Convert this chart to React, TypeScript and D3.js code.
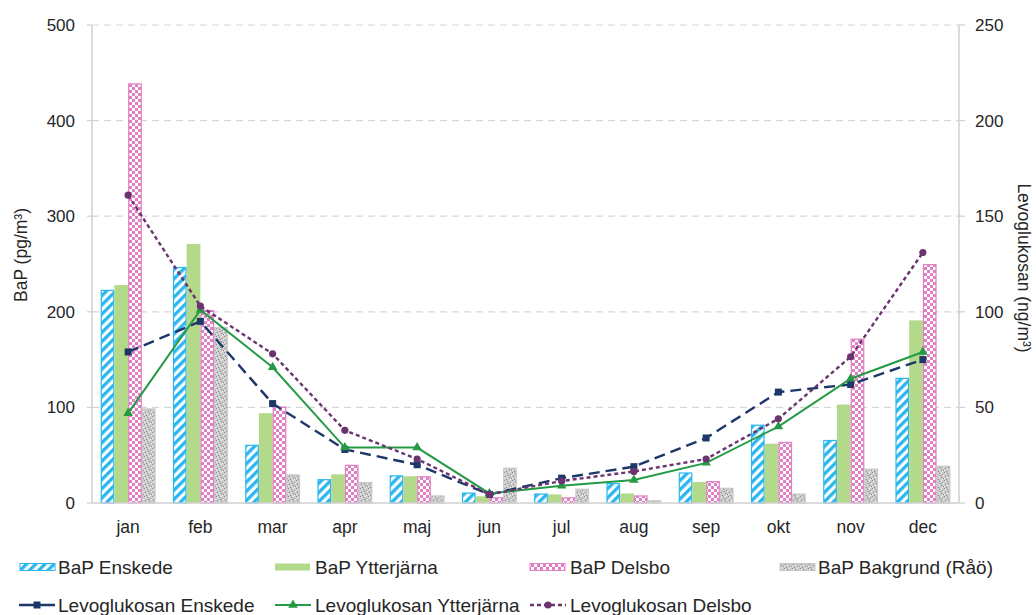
import React from "react";
import * as d3 from "d3";

const months = ["jan", "feb", "mar", "apr", "maj", "jun", "jul", "aug", "sep", "okt", "nov", "dec"];
const bapEnskede = [223, 247, 61, 25, 29, 11, 10, 21, 32, 82, 66, 131];
const bapYtterjarna = [228, 271, 94, 30, 28, 7, 9, 10, 22, 62, 103, 191];
const bapDelsbo = [439, 202, 101, 40, 28, 6, 6, 8, 23, 64, 172, 250];
const bapBakgrund = [99, 184, 30, 22, 8, 37, 15, 3, 16, 10, 36, 39];
const levoEnskede = [79, 95, 52, 28, 20, 4.5, 13, 19, 34, 58, 62, 75];
const levoYtterjarna = [47, 101, 71, 29, 29, 5, 9, 12, 21, 40, 65, 79];
const levoDelsbo = [161, 103, 78, 38, 23, 4.5, 11.5, 16.5, 23, 44, 76.5, 131];
const leftTicks = [0, 100, 200, 300, 400, 500];
const rightTicks = [0, 50, 100, 150, 200, 250];

const W = 1036;
const H = 615;
const X0 = 92;
const X1 = 959;
const Y0 = 503;
const Y1 = 25;
const FONT = "'Liberation Sans', Arial, sans-serif";
const TXT = "#262626";

const barSeries = [
  { key: "BaP Enskede", values: bapEnskede, fill: "url(#pEnskede)", stroke: "#2bb6ef" },
  { key: "BaP Ytterjärna", values: bapYtterjarna, fill: "#b3da8a", stroke: "none" },
  { key: "BaP Delsbo", values: bapDelsbo, fill: "url(#pDelsbo)", stroke: "#e07fc2" },
  { key: "BaP Bakgrund (Råö)", values: bapBakgrund, fill: "url(#pBak)", stroke: "#c8c8c8" },
];

const lineSeries = [
  { key: "Levoglukosan Enskede", values: levoEnskede, color: "#1c3768", dash: "11,6", legendDash: "none", width: 2.4, marker: "square" },
  { key: "Levoglukosan Ytterjärna", values: levoYtterjarna, color: "#259a45", dash: "none", legendDash: "none", width: 2, marker: "triangle" },
  { key: "Levoglukosan Delsbo", values: levoDelsbo, color: "#6b3470", dash: "4,3", legendDash: "4,3", width: 2.4, marker: "circle" },
];

// stipple dot positions inside an 8x8 tile (pattern geometry, not data)
const darkDots = [[0, 0], [3, 1], [6, 2], [1, 4], [5, 5], [2, 7], [7, 6], [4, 3]];
const lightDots = [[1, 1], [5, 0], [3, 5], [7, 3], [0, 6], [6, 7]];

function Marker({ type, x, y, color }: { type: string; x: number; y: number; color: string }) {
  if (type === "square") return <rect x={x - 3.5} y={y - 3.5} width={7} height={7} fill={color} />;
  if (type === "triangle") {
    const s = d3.symbol().type(d3.symbolTriangle).size(40)();
    return <path d={s || ""} transform={`translate(${x},${y})`} fill={color} />;
  }
  return <circle cx={x} cy={y} r={3.6} fill={color} />;
}

export default function App() {
  const x = d3.scaleBand<string>().domain(months).range([X0, X1]).padding(0);
  const groupW = x.bandwidth() * 0.76;
  const inner = d3
    .scaleBand<string>()
    .domain(barSeries.map((s) => s.key))
    .range([0, groupW]);
  const yL = d3.scaleLinear().domain([0, 500]).range([Y0, Y1]);
  const yR = d3.scaleLinear().domain([0, 250]).range([Y0, Y1]);
  const cx = (m: string) => (x(m) as number) + x.bandwidth() / 2;

  const legendBars = [
    { x: 20, tx: 58 },
    { x: 275, tx: 315 },
    { x: 530, tx: 570 },
    { x: 780, tx: 818 },
  ];
  const legendLines = [
    { x: 19, tx: 58 },
    { x: 275, tx: 315 },
    { x: 530, tx: 570 },
  ];

  return (
    <svg
      width={W}
      height={H}
      viewBox={`0 0 ${W} ${H}`}
      style={{ position: "absolute", left: 0, top: 0, display: "block", background: "#fff" }}
      fontFamily={FONT}
    >
      <defs>
        <pattern id="pEnskede" patternUnits="userSpaceOnUse" width={6.5} height={6.5} patternTransform="rotate(45)">
          <rect width={6.5} height={6.5} fill="#fff" />
          <rect x={0} y={0} width={3.3} height={6.5} fill="#2bb6ef" />
        </pattern>
        <pattern id="pDelsbo" patternUnits="userSpaceOnUse" width={6} height={6}>
          <rect width={6} height={6} fill="#e07fc2" />
          <rect x={0} y={0} width={3} height={3} fill="#fff" />
          <rect x={3} y={3} width={3} height={3} fill="#fff" />
        </pattern>
        <pattern id="pBak" patternUnits="userSpaceOnUse" width={8} height={8}>
          <rect width={8} height={8} fill="#cbcbcb" />
          {darkDots.map(([a, b], i) => (
            <rect key={"d" + i} x={a} y={b} width={1} height={1} fill="#8c8c8c" />
          ))}
          {lightDots.map(([a, b], i) => (
            <rect key={"l" + i} x={a} y={b} width={1} height={1} fill="#f0f0f0" />
          ))}
        </pattern>
      </defs>

      {/* gridlines */}
      {leftTicks.filter((t) => t > 0).map((t) => (
        <line key={t} x1={X0} x2={X1} y1={yL(t)} y2={yL(t)} stroke="#d6d6d6" strokeWidth={1.2} strokeDasharray="7,5" />
      ))}

      {/* bars */}
      {barSeries.map((s) => (
        <g key={s.key}>
          {months.map((m, i) => {
            const bx = (x(m) as number) + (x.bandwidth() - groupW) / 2 + (inner(s.key) as number);
            const by = yL(s.values[i]);
            const bw = inner.bandwidth();
            const inset = s.stroke === "none" ? 0 : 0.6;
            return (
              <rect
                key={m}
                x={bx + inset}
                y={by + inset}
                width={bw - 2 * inset}
                height={Math.max(0, Y0 - by - inset)}
                fill={s.fill}
                stroke={s.stroke}
                strokeWidth={1.2}
              />
            );
          })}
        </g>
      ))}

      {/* axes */}
      <line x1={X0} x2={X0} y1={Y1} y2={Y0} stroke="#cfcfcf" strokeWidth={1.5} />
      <line x1={X1} x2={X1} y1={Y1} y2={Y0} stroke="#cfcfcf" strokeWidth={1.5} />
      <line x1={X0} x2={X1} y1={Y0} y2={Y0} stroke="#cfcfcf" strokeWidth={1.5} />
      {leftTicks.map((t) => (
        <g key={t}>
          <line x1={X0 - 5} x2={X0} y1={yL(t)} y2={yL(t)} stroke="#cfcfcf" strokeWidth={1.2} />
          <text x={75} y={yL(t)} dy="0.35em" textAnchor="end" fontSize={17} fill={TXT}>
            {t}
          </text>
        </g>
      ))}
      {rightTicks.map((t) => (
        <g key={t}>
          <line x1={X1} x2={X1 + 6} y1={yR(t)} y2={yR(t)} stroke="#cfcfcf" strokeWidth={1.2} />
          <text x={975} y={yR(t)} dy="0.35em" textAnchor="start" fontSize={17} fill={TXT}>
            {t}
          </text>
        </g>
      ))}
      {months.map((m) => (
        <text key={m} x={cx(m)} y={533} textAnchor="middle" fontSize={17.5} fill={TXT}>
          {m}
        </text>
      ))}

      <text transform={`translate(27,255) rotate(-90)`} textAnchor="middle" fontSize={17.5} fill={TXT}>
        BaP (pg/m³)
      </text>
      <text transform={`translate(1018,268) rotate(90)`} textAnchor="middle" fontSize={17.5} fill={TXT}>
        Levoglukosan (ng/m³)
      </text>

      {/* lines */}
      {lineSeries.map((s) => {
        const line = d3
          .line<number>()
          .x((_, i) => cx(months[i]))
          .y((v) => yR(v));
        return (
          <g key={s.key}>
            <path d={line(s.values) || ""} fill="none" stroke={s.color} strokeWidth={s.width} strokeDasharray={s.dash} />
            {s.values.map((v, i) => (
              <Marker key={i} type={s.marker} x={cx(months[i])} y={yR(v)} color={s.color} />
            ))}
          </g>
        );
      })}

      {/* legend */}
      {barSeries.map((s, i) => (
        <g key={s.key}>
          <rect
            x={legendBars[i].x}
            y={563.5}
            width={35}
            height={7}
            fill={s.fill}
            stroke={s.stroke === "none" ? "none" : s.stroke}
            strokeWidth={1}
          />
          <text x={legendBars[i].tx} y={567} dy="0.35em" fontSize={19} fill={TXT}>
            {s.key}
          </text>
        </g>
      ))}
      {lineSeries.map((s, i) => (
        <g key={s.key}>
          <line
            x1={legendLines[i].x}
            x2={legendLines[i].x + 36}
            y1={605}
            y2={605}
            stroke={s.color}
            strokeWidth={s.width}
            strokeDasharray={s.legendDash}
          />
          <Marker type={s.marker} x={legendLines[i].x + 18} y={605} color={s.color} />
          <text x={legendLines[i].tx} y={605} dy="0.35em" fontSize={19} fill={TXT}>
            {s.key}
          </text>
        </g>
      ))}
    </svg>
  );
}
